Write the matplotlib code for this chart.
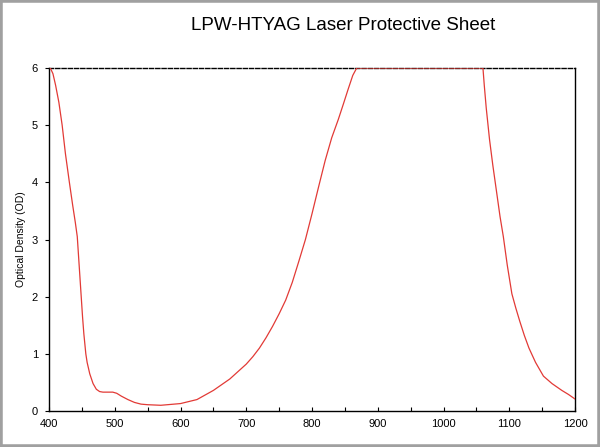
import matplotlib.pyplot as plt
from matplotlib.patches import Rectangle

plt.rcParams['font.family'] = ['Liberation Sans', 'DejaVu Sans']

# wavelength (nm) vs optical density
wavelength = [402, 406, 410, 415, 420, 425, 431, 436, 440, 443, 445, 447, 449,
              451, 453, 456, 458, 462, 467, 472, 477, 482, 490, 497, 503, 510,
              520, 530, 540, 550, 570, 600, 625, 650, 675, 700, 710, 720, 730,
              740, 750, 760, 770, 780, 790, 800, 810, 820, 830, 840, 848, 855,
              862, 868, 1060, 1062, 1065, 1070, 1075, 1081, 1086, 1091, 1097,
              1104, 1110, 1116, 1123, 1130, 1140, 1152, 1165, 1180, 1190, 1200]
od = [6.0, 5.9, 5.7, 5.4, 5.0, 4.5, 4.0, 3.6, 3.3, 3.05, 2.7, 2.35, 2.0,
      1.65, 1.35, 1.0, 0.85, 0.65, 0.48, 0.38, 0.34, 0.33, 0.33, 0.33, 0.31, 0.26,
      0.2, 0.15, 0.12, 0.11, 0.10, 0.13, 0.2, 0.36, 0.56, 0.82, 0.95, 1.1, 1.28,
      1.48, 1.7, 1.94, 2.25, 2.62, 3.0, 3.45, 3.92, 4.38, 4.78, 5.1, 5.38, 5.63,
      5.87, 6.0, 6.0, 5.7, 5.3, 4.75, 4.3, 3.81, 3.4, 3.05, 2.55,
      2.05, 1.8, 1.57, 1.32, 1.1, 0.85, 0.61, 0.48, 0.36, 0.29, 0.21]

x_ticks = [400, 500, 600, 700, 800, 900, 1000, 1100, 1200]
y_ticks = [0, 1, 2, 3, 4, 5, 6]

fig = plt.figure(figsize=(6, 4.47), dpi=100, facecolor='white')
ax = fig.add_axes([49/600, 1 - 411/447, 526/600, 343/447])

ax.plot(wavelength, od, color='#e23a36', lw=0.9, zorder=3)

ax.set_xlim(400, 1200)
ax.set_ylim(0, 6)
ax.set_xticks(x_ticks)
ax.set_xticks(range(450, 1200, 100), minor=True)
ax.set_yticks(y_ticks)
ax.tick_params(axis='x', direction='in', length=3, labelsize=8, pad=6, width=0.8)
ax.tick_params(axis='x', which='minor', direction='in', length=3, width=0.8)
ax.tick_params(axis='y', direction='out', length=3, labelsize=8, pad=5, width=0.8)
ax.spines['top'].set_linestyle((0, (3, 1.5)))
for s in ax.spines.values():
    s.set_linewidth(1.0)
ax.set_ylabel('Optical Density (OD)', fontsize=7.5, labelpad=4)

fig.text(343/600, 1 - 25/447, 'LPW-HTYAG Laser Protective Sheet', ha='center',
         va='center', fontsize=13.5)

fig.patches.append(Rectangle((0, 0), 1, 1, transform=fig.transFigure, fill=False,
                             edgecolor='#a0a0a0', lw=4))

fig.savefig('out.png', dpi=100)
